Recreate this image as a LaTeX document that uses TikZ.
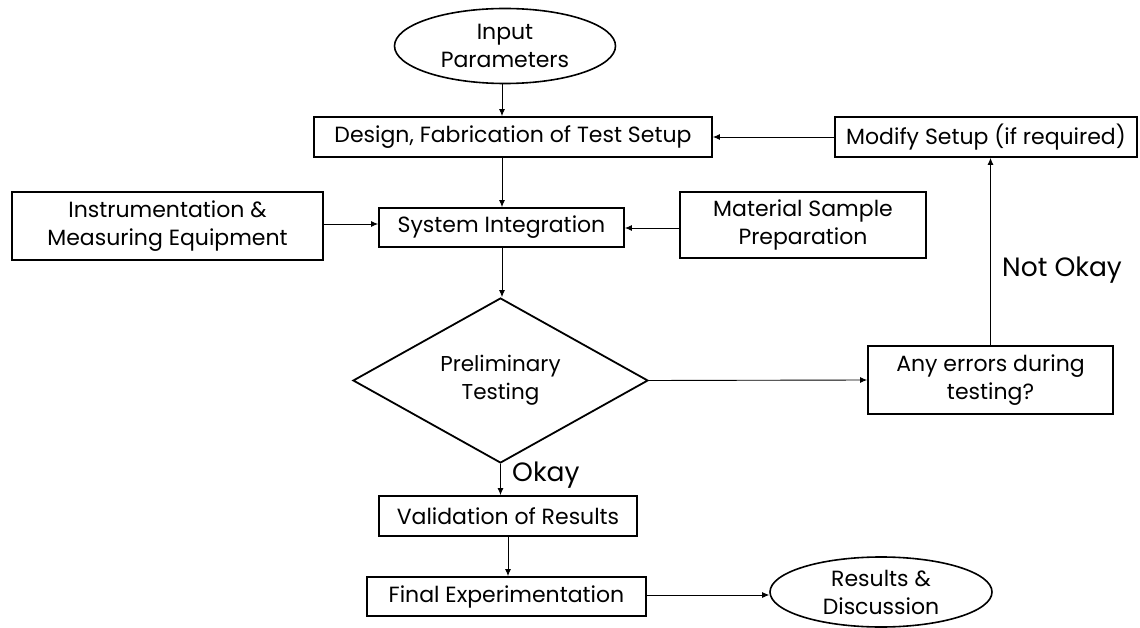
\documentclass[tikz,border=0pt]{standalone}
\usepackage{fontspec}
\setmainfont{Poppins}
\usetikzlibrary{shapes.geometric,arrows.meta}
\tikzset{
  txt/.style={font=\fontsize{22}{28}\selectfont},
  box/.style={draw,line width=1.8pt,inner sep=0pt,align=center,txt},
  oval/.style={draw,ellipse,line width=1.6pt,inner sep=0pt,align=center,txt},
  dia/.style={draw,diamond,line width=1.8pt,inner sep=0pt,align=center,font=\fontsize{21.5}{28}\selectfont},
  arr/.style={-{Latex[length=7pt,width=6pt]},line width=0.9pt},
  lbl/.style={inner sep=0pt,font=\fontsize{26.5}{30}\selectfont}
}
\begin{document}
\begin{tikzpicture}[x=1pt,y=-1pt]
\useasboundingbox (0,0) rectangle (1140,628);
\node[oval,minimum width=221pt,minimum height=75pt] (inp) at (505,46) {Input\\Parameters};
\node[box,minimum width=398pt,minimum height=40pt] (des) at (513,137) {Design, Fabrication of Test Setup};
\node[box,minimum width=302pt,minimum height=40pt] (mod) at (986,137) {Modify Setup (if required)};
\node[box,minimum width=311pt,minimum height=68pt] (ins) at (167.5,226) {Instrumentation \&\\Measuring Equipment};
\node[box,minimum width=245pt,minimum height=39pt] (sys) at (501.5,227.5) {System Integration};
\node[box,minimum width=246pt,minimum height=66pt] (mat) at (803,225) {Material Sample\\Preparation};
\node[dia,minimum width=295pt,minimum height=165pt,aspect=1.79] (pre) at (500.5,380.5) {Preliminary\\Testing};
\node[box,minimum width=245pt,minimum height=68pt] (err) at (990.5,380) {Any errors during\\testing?};
\node[box,minimum width=258pt,minimum height=40pt] (val) at (508,516) {Validation of Results};
\node[box,minimum width=279pt,minimum height=39pt] (fin) at (506.5,596.5) {Final Experimentation};
\node[oval,minimum width=222pt,minimum height=70pt] (res) at (881,592) {Results \&\\Discussion};
\node[lbl,anchor=west] (ok) at (512,475) {Okay};
\node[lbl,anchor=west] (nok) at (1002,270) {Not Okay};
\draw[arr] (inp.south -| 502,0) -- (des.north -| 502,0);
\draw[arr] (mod.west) -- (des.east);
\draw[arr] (des.south -| 502,0) -- (sys.north -| 502,0);
\draw[arr] (ins.east |- 0,224) -- (sys.west |- 0,224);
\draw[arr] (mat.west |- 0,228) -- (sys.east |- 0,228);
\draw[arr] (sys.south -| 502,0) -- (pre.north -| 502,0);
\draw[arr] (pre.east) -- (err.west);
\draw[arr] (err.north) -- (mod.south -| err.north);
\draw[arr] (pre.south) -- (val.north -| pre.south);
\draw[arr] (val.south) -- (fin.north -| val.south);
\draw[arr] (fin.east |- 0,595) -- (res.west |- 0,595);
\end{tikzpicture}
\end{document}
